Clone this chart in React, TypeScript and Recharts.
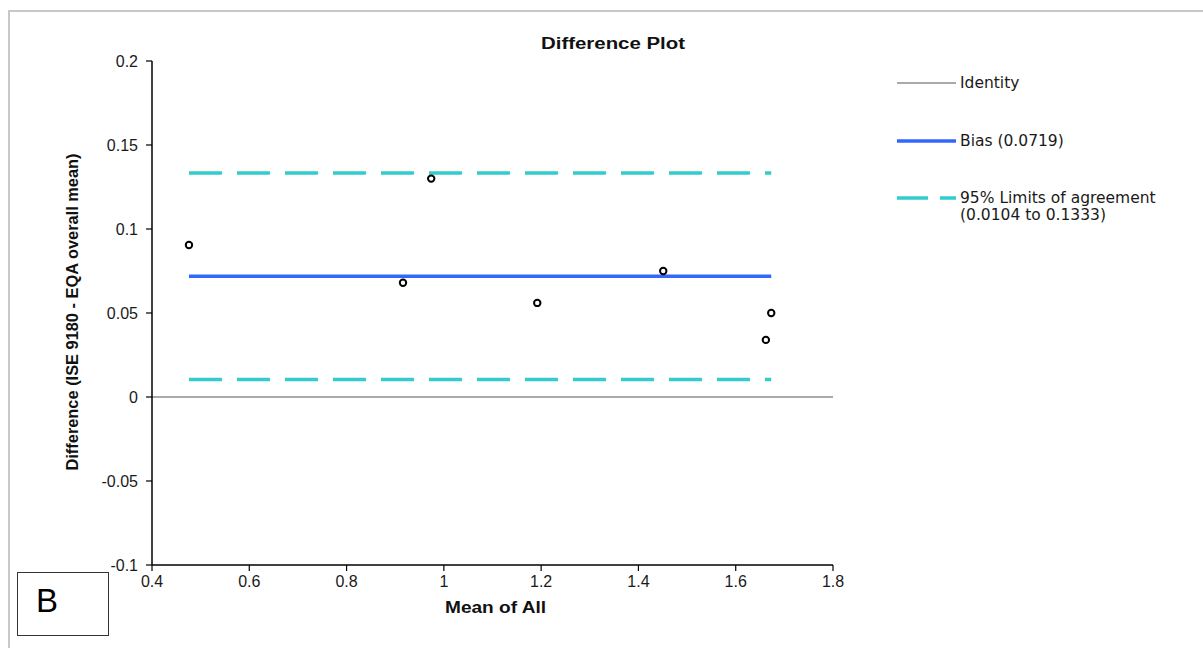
import React from 'react';
import { ComposedChart, Scatter, Line, XAxis, YAxis } from 'recharts';

// mean of the two methods vs difference
const meanValues = [0.476, 0.974, 0.916, 1.192, 1.451, 1.662, 1.673];
const diffValues = [0.0905, 0.130, 0.068, 0.056, 0.075, 0.034, 0.050];

const bias = 0.0719;
const lowerLimit = 0.0104;
const upperLimit = 0.1333;

const xTicks = [0.4, 0.6, 0.8, 1, 1.2, 1.4, 1.6, 1.8];
const yTicks = [-0.1, -0.05, 0, 0.05, 0.1, 0.15, 0.2];

const legendItems = ['Identity', 'Bias (0.0719)', '95% Limits of agreement', '(0.0104 to 0.1333)'];

const points = meanValues.map((x, i) => ({ x, y: diffValues[i] }));
const xMin = Math.min(...meanValues);
const xMax = Math.max(...meanValues);

const identityData = [{ x: xTicks[0], y: 0 }, { x: xTicks[xTicks.length - 1], y: 0 }];
const biasData = [{ x: xMin, y: bias }, { x: xMax, y: bias }];
const lowerData = [{ x: xMin, y: lowerLimit }, { x: xMax, y: lowerLimit }];
const upperData = [{ x: xMin, y: upperLimit }, { x: xMax, y: upperLimit }];

const GREY = '#8c8c8c';
const BLUE = '#3366ff';
const TEAL = '#33cccc';
const tickFont = { fontFamily: 'Liberation Sans', fontSize: 16, fill: '#1a1a1a' };
const legendFont = { fontFamily: 'DejaVu Sans', fontSize: 15.5, fill: '#1a1a1a' };

const Marker = (props: any) => (
  <circle cx={props.cx} cy={props.cy} r={3.2} fill="#fff" stroke="#000" strokeWidth={2} />
);

export default function App() {
  return (
    <div style={{ position: 'fixed', top: 0, left: 0, width: 1203, height: 648, background: '#fff', overflow: 'hidden' }}>
      <div
        style={{
          position: 'absolute', left: 8, top: 10, width: 1400, height: 800,
          borderTop: '2px solid #c8c8c8', borderLeft: '2px solid #c8c8c8',
        }}
      />
      <div style={{ position: 'absolute', left: 0, top: 0 }}>
        <ComposedChart width={1203} height={648} margin={{ top: 61, right: 370, bottom: 53, left: 92 }}>
          <XAxis
            type="number"
            dataKey="x"
            domain={[0.4, 1.8]}
            ticks={xTicks}
            allowDataOverflow
            height={30}
            tickSize={6}
            tickMargin={5}
            axisLine={{ stroke: '#000', strokeWidth: 1.5 }}
            tickLine={{ stroke: '#000', strokeWidth: 1.2 }}
            tick={tickFont}
          />
          <YAxis
            type="number"
            dataKey="y"
            domain={[-0.1, 0.2]}
            ticks={yTicks}
            allowDataOverflow
            width={60}
            tickSize={6}
            tickMargin={8}
            axisLine={{ stroke: '#000', strokeWidth: 1.5 }}
            tickLine={{ stroke: '#000', strokeWidth: 1.2 }}
            tick={tickFont}
          />
          <Line data={identityData} dataKey="y" stroke={GREY} strokeWidth={1.5} dot={false} isAnimationActive={false} />
          <Line data={upperData} dataKey="y" stroke={TEAL} strokeWidth={3.5} strokeDasharray="33 15" dot={false} isAnimationActive={false} />
          <Line data={lowerData} dataKey="y" stroke={TEAL} strokeWidth={3.5} strokeDasharray="33 15" dot={false} isAnimationActive={false} />
          <Line data={biasData} dataKey="y" stroke={BLUE} strokeWidth={3.5} dot={false} isAnimationActive={false} />
          <Scatter data={points} shape={Marker} isAnimationActive={false} />
        </ComposedChart>
      </div>
      <svg width={1203} height={648} style={{ position: 'absolute', left: 0, top: 0, pointerEvents: 'none' }}>
        <text x={613} y={49} textAnchor="middle" fontFamily="Liberation Sans" fontWeight="bold" fontSize={16}
          textLength={144} lengthAdjust="spacingAndGlyphs" fill="#111">Difference Plot</text>
        <text x={495.5} y={613} textAnchor="middle" fontFamily="Liberation Sans" fontWeight="bold" fontSize={16}
          textLength={101} lengthAdjust="spacingAndGlyphs" fill="#111">Mean of All</text>
        <text transform="translate(78 312) rotate(-90)" textAnchor="middle" fontFamily="Liberation Sans Narrow, Liberation Sans"
          fontWeight="bold" fontSize={17} textLength={317} lengthAdjust="spacingAndGlyphs" fill="#111">
          Difference (ISE 9180 - EQA overall mean)
        </text>

        <line x1={897} y1={83} x2={956} y2={83} stroke={GREY} strokeWidth={1.5} />
        <text x={960} y={88} {...legendFont}>{legendItems[0]}</text>
        <line x1={897} y1={141} x2={956} y2={141} stroke={BLUE} strokeWidth={3.5} />
        <text x={960} y={146} {...legendFont}>{legendItems[1]}</text>
        <line x1={897} y1={198} x2={956} y2={198} stroke={TEAL} strokeWidth={3.5} strokeDasharray="31 12" />
        <text x={960} y={203} {...legendFont}>{legendItems[2]}</text>
        <text x={960} y={220} {...legendFont}>{legendItems[3]}</text>

        <rect x={17.5} y={572.5} width={91} height={63} fill="#fff" stroke="#333" strokeWidth={1} />
        <text x={47} y={612} textAnchor="middle" fontFamily="Liberation Sans" fontSize={33} fill="#000">B</text>
      </svg>
    </div>
  );
}
